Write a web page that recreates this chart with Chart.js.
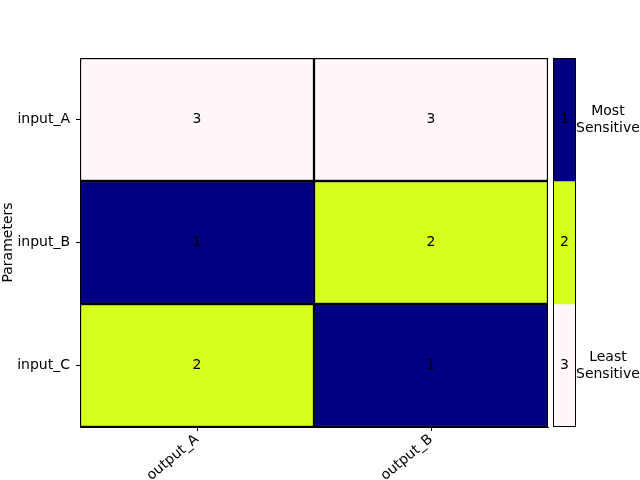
<!DOCTYPE html>
<html>
<head>
<meta charset="utf-8">
<script src="https://cdn.jsdelivr.net/npm/chart.js@4"></script>
<style>
html,body{margin:0;padding:0;background:#fff;overflow:hidden;}
#wrap{position:relative;width:640px;height:480px;overflow:hidden;}
#main{position:absolute;left:0;top:0;}
#cbar{position:absolute;left:540px;top:0;}
</style>
</head>
<body>
<div id="wrap">
<canvas id="main" width="640" height="480"></canvas>
<canvas id="cbar" width="104" height="480"></canvas>
</div>
<script>
const columns = ['output_A', 'output_B'];
const rows = ['input_A', 'input_B', 'input_C'];
const rankInputA = [3, 3];
const rankInputB = [1, 2];
const rankInputC = [2, 1];
const rankRows = [rankInputA, rankInputB, rankInputC];
const levels = [1, 2, 3];
const levelColors = ['#000080', '#d6ff1f', '#fff7fb'];
const levelText = [['Most', 'Sensitive'], '', ['Least', 'Sensitive']];
const yAxisTitle = 'Parameters';

Chart.defaults.font.family = "'DejaVu Sans', sans-serif";
Chart.defaults.font.size = 14;
Chart.defaults.color = '#000';

function colorOf(v) { return levelColors[levels.indexOf(v)]; }

const frame = {
  id: 'frame',
  afterDraw(chart) {
    const a = chart.chartArea, c = chart.ctx;
    c.save();
    c.strokeStyle = '#000';
    c.lineWidth = 1;
    c.strokeRect(Math.round(a.left) + 0.5, Math.round(a.top) + 0.5,
      Math.round(a.right - a.left) - 1, Math.round(a.bottom - a.top) - 1);
    c.restore();
  }
};

const cellText = {
  id: 'cellText',
  afterDatasetsDraw(chart) {
    const c = chart.ctx;
    c.save();
    c.fillStyle = '#000';
    c.font = "14px 'DejaVu Sans', sans-serif";
    c.textAlign = 'center';
    c.textBaseline = 'middle';
    chart.data.datasets.forEach((ds, i) => {
      const meta = chart.getDatasetMeta(i);
      meta.data.forEach((el, j) => {
        const t = ds.cellLabels[j];
        if (t === '' || t === undefined) return;
        c.fillText(String(t), el.x, (el.y + el.base) / 2);
      });
    });
    c.restore();
  }
};

const mainDatasets = rows.map((r, i) => {
  const lo = rows.length - 1 - i;
  return {
    label: r,
    data: columns.map(() => [lo, lo + 1]),
    backgroundColor: rankRows[i].map(colorOf),
    borderColor: '#000',
    borderWidth: 1.5,
    borderSkipped: false,
    grouped: false,
    barPercentage: 1,
    categoryPercentage: 1,
    cellLabels: rankRows[i]
  };
});

new Chart(document.getElementById('main'), {
  type: 'bar',
  data: { labels: columns, datasets: mainDatasets },
  options: {
    responsive: false,
    animation: false,
    layout: { padding: { left: 0, right: 92, top: 58, bottom: 0 } },
    plugins: { legend: { display: false }, tooltip: { enabled: false } },
    scales: {
      x: {
        type: 'category',
        offset: true,
        grid: { display: true, drawOnChartArea: false, drawTicks: true, tickLength: 4, color: '#000', offset: false },
        border: { display: true, color: '#000' },
        ticks: { color: '#000', maxRotation: 40, minRotation: 40, padding: 0 },
        afterFit(s) { s.height = 53; }
      },
      y: {
        type: 'linear',
        min: 0,
        max: rows.length,
        afterBuildTicks(s) {
          s.ticks = rows.map((r, i) => ({ value: rows.length - 1 - i + 0.5 }));
        },
        ticks: {
          color: '#000',
          padding: 6,
          callback(v) { return rows[rows.length - 1 - Math.floor(v)]; }
        },
        grid: { display: true, drawOnChartArea: false, drawTicks: true, tickLength: 4, color: '#000' },
        border: { display: true, color: '#000' },
        title: { display: true, text: yAxisTitle, color: '#000', padding: { top: 0, bottom: 0 } },
        afterFit(s) { s.width = 80; }
      }
    }
  },
  plugins: [cellText, frame]
});

const cbDatasets = levels.map((v, i) => ({
  label: String(v),
  data: [[levels.length - 1 - i, levels.length - i]],
  backgroundColor: levelColors[i],
  borderWidth: 0,
  grouped: false,
  barPercentage: 1,
  categoryPercentage: 1,
  cellLabels: [v]
}));

new Chart(document.getElementById('cbar'), {
  type: 'bar',
  data: { labels: ['rank'], datasets: cbDatasets },
  options: {
    responsive: false,
    animation: false,
    layout: { padding: { left: 13, right: 0, top: 58, bottom: 53 } },
    plugins: { legend: { display: false }, tooltip: { enabled: false } },
    scales: {
      x: { display: false },
      y: {
        position: 'right',
        min: 0,
        max: levels.length,
        afterBuildTicks(s) {
          s.ticks = levels.map((v, i) => ({ value: levels.length - 1 - i + 0.5 }));
        },
        ticks: {
          color: '#000',
          crossAlign: 'center',
          padding: 0,
          callback(v) { return levelText[levels.length - 1 - Math.floor(v)]; }
        },
        grid: { display: false, drawTicks: false },
        border: { display: false },
        afterFit(s) { s.width = 68; }
      }
    }
  },
  plugins: [cellText, frame]
});
</script>
</body>
</html>
